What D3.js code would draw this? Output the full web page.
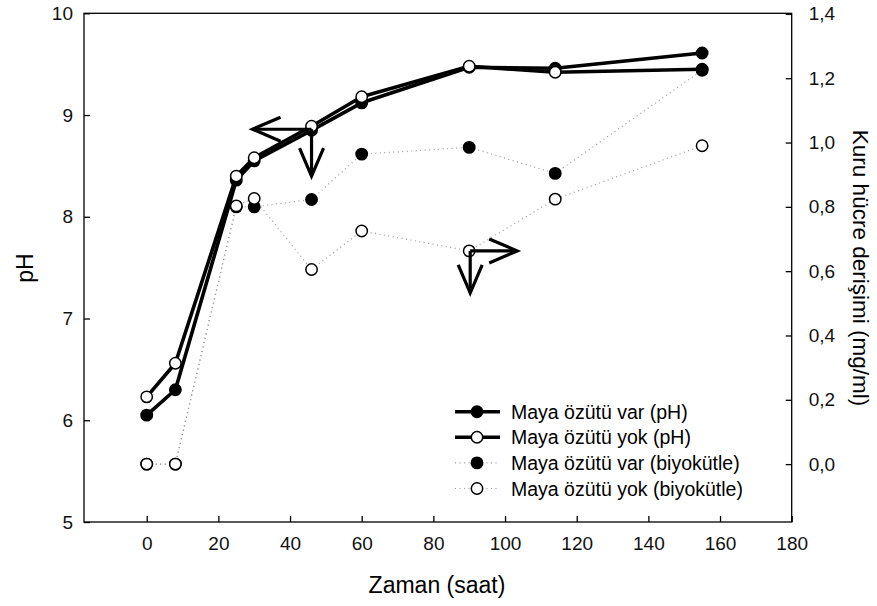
<!DOCTYPE html>
<html><head><meta charset="utf-8">
<script src="https://cdn.jsdelivr.net/npm/d3@7"></script>
<style>body{margin:0;background:#fff;} text{font-family:"Liberation Sans",Arial,sans-serif;}</style>
</head><body>
<svg id="c" width="877" height="606"></svg>
<script>
const time = [0, 8, 25, 30, 46, 60, 90, 114, 155];
const phVar = [6.05, 6.30, 8.36, 8.55, 8.85, 9.12, 9.47, 9.46, 9.61];
const phYok = [6.23, 6.56, 8.40, 8.58, 8.89, 9.18, 9.48, 9.42, 9.45];
const bioVar = [0.0, 0.0, 0.80, 0.80, 0.823, 0.964, 0.985, 0.904, 1.225];
const bioYok = [0.0, 0.0, 0.803, 0.826, 0.605, 0.725, 0.663, 0.824, 0.99];
const xTicks = [0, 20, 40, 60, 80, 100, 120, 140, 160, 180];
const yTicks = [5, 6, 7, 8, 9, 10];
const y2Ticks = [0, 0.2, 0.4, 0.6, 0.8, 1.0, 1.2, 1.4];
const legendLabels = ["Maya özütü var (pH)", "Maya özütü yok (pH)", "Maya özütü var (biyokütle)", "Maya özütü yok (biyokütle)"];

const svg = d3.select("#c");
const L = 84, R = 791.7, T = 13.3, B = 522;
const x = d3.scaleLinear().domain([-17.5, 180]).range([L, R]);
const y = d3.scaleLinear().domain([5, 10]).range([B, T]);
const y2 = d3.scaleLinear().domain([-0.18, 1.4]).range([B, 13.9]);

// frame
svg.append("rect").attr("x", L).attr("y", T).attr("width", R - L).attr("height", B - T)
  .attr("fill", "none").attr("stroke", "#000").attr("stroke-width", 1.3);

const fmt = d => d.toFixed(1).replace(".", ",");
const ax = svg.append("g").attr("transform", `translate(0,${B})`)
  .call(d3.axisBottom(x).tickValues(xTicks).tickFormat(d3.format("d")).tickSizeInner(-6).tickSizeOuter(0).tickPadding(15));
const ayl = svg.append("g").attr("transform", `translate(${L},0)`)
  .call(d3.axisLeft(y).tickValues(yTicks).tickFormat(d3.format("d")).tickSizeInner(-6).tickSizeOuter(0).tickPadding(11));
const ayr = svg.append("g").attr("transform", `translate(${R},0)`)
  .call(d3.axisRight(y2).tickValues(y2Ticks).tickFormat(fmt).tickSizeInner(-6).tickSizeOuter(0).tickPadding(17));
[ax, ayl, ayr].forEach(g => {
  g.attr("font-size", null).attr("font-family", null);
  g.select(".domain").remove();
  g.selectAll("line").attr("stroke", "#000").attr("stroke-width", 1.3);
  g.selectAll("text").style("font-size", "19px").style("font-family", "'Liberation Sans', Arial, sans-serif").attr("fill", "#111");
});

// axis titles
svg.append("text").attr("x", 437).attr("y", 593).attr("text-anchor", "middle").style("font-size", "23px").text("Zaman (saat)");
svg.append("text").attr("transform", "translate(33,268) rotate(-90)").attr("text-anchor", "middle").style("font-size", "23px").text("pH");
svg.append("text").attr("transform", "translate(853,268) rotate(90)").attr("text-anchor", "middle").style("font-size", "22.5px").text("Kuru hücre derişimi (mg/ml)");

const series = [
  {vals: phVar, sc: y, fill: "#000", solid: true},
  {vals: phYok, sc: y, fill: "#fff", solid: true},
  {vals: bioVar, sc: y2, fill: "#000", solid: false},
  {vals: bioYok, sc: y2, fill: "#fff", solid: false}
];

// lines
series.forEach(s => {
  const line = d3.line().x((d, i) => x(time[i])).y(d => s.sc(d));
  svg.append("path").datum(s.vals).attr("d", line).attr("fill", "none")
    .attr("stroke", s.solid ? "#000" : "#999")
    .attr("stroke-width", s.solid ? 3.6 : 1.2)
    .attr("stroke-dasharray", s.solid ? null : "1,3.5")
    .attr("stroke-linejoin", "round");
});
// markers
series.forEach(s => {
  svg.append("g").selectAll("circle").data(s.vals).join("circle")
    .attr("cx", (d, i) => x(time[i])).attr("cy", d => s.sc(d)).attr("r", 5.7)
    .attr("fill", s.fill).attr("stroke", "#000").attr("stroke-width", 1.5);
});

// annotation arrows (anchored at data points)
function arrow(x0, y0, dx, dy) {
  const x1 = x0 + dx, y1 = y0 + dy;
  const len = Math.hypot(dx, dy), ux = dx / len, uy = dy / len;
  const hl = 28, hw = 12;
  const p = [[x1 - ux * hl - uy * hw, y1 - uy * hl + ux * hw], [x1, y1], [x1 - ux * hl + uy * hw, y1 - uy * hl - ux * hw]];
  svg.append("line").attr("x1", x0).attr("y1", y0).attr("x2", x1).attr("y2", y1).attr("stroke", "#000").attr("stroke-width", 3.2);
  svg.append("path").attr("d", d3.line()(p)).attr("fill", "none").attr("stroke", "#000").attr("stroke-width", 3.2);
}
const a1x = x(46), a1y = y(8.89) + 3;
arrow(a1x, a1y, -59, 0);
arrow(a1x, a1y, 0, 47);
const a2x = x(90), a2y = y2(0.663);
arrow(a2x + 1, a2y, 47, 0);
arrow(a2x + 1, a2y, 0, 42);

// legend
const lg = svg.append("g");
series.forEach((s, i) => {
  const ly = 411.7 + i * 25.6;
  lg.append("line").attr("x1", 455).attr("x2", 500).attr("y1", ly).attr("y2", ly)
    .attr("stroke", s.solid ? "#000" : "#999").attr("stroke-width", s.solid ? 3.6 : 1.2)
    .attr("stroke-dasharray", s.solid ? null : "1,3.5");
  lg.append("circle").attr("cx", 477).attr("cy", ly).attr("r", 5.7).attr("fill", s.fill).attr("stroke", "#000").attr("stroke-width", 1.5);
  lg.append("text").attr("x", 511).attr("y", ly + 7).style("font-size", "19.5px").text(legendLabels[i]);
});
</script>
</body></html>
